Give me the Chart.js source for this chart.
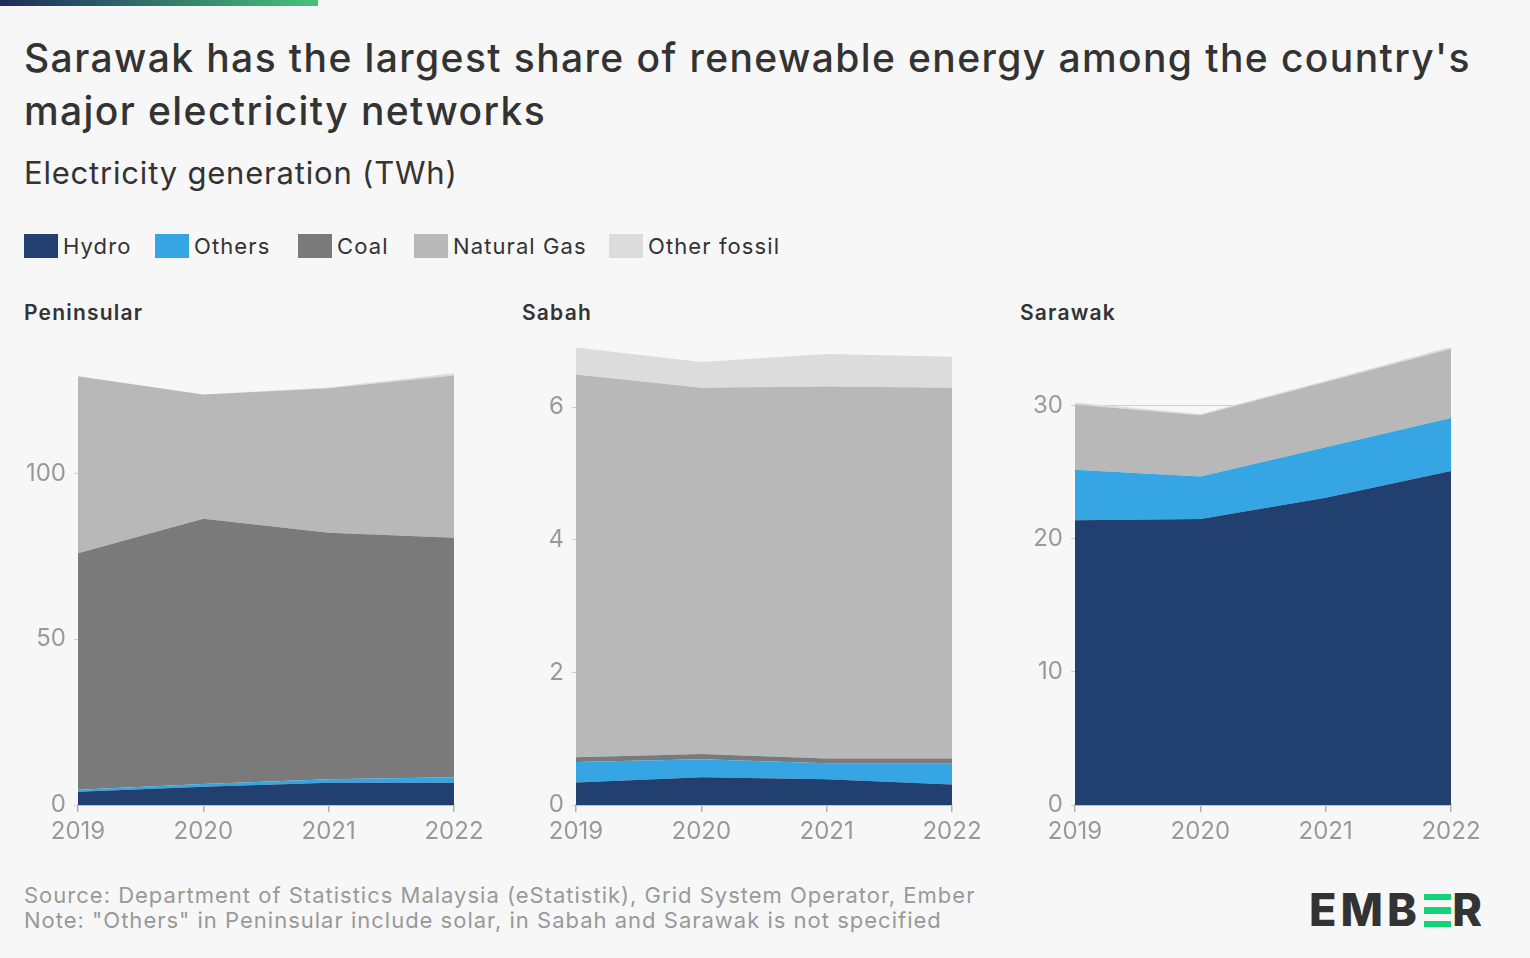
<!DOCTYPE html>
<html>
<head>
<meta charset="utf-8">
<script src="https://cdn.jsdelivr.net/npm/chart.js@4.4.1/dist/chart.umd.min.js"></script>
<style>
  html, body { margin:0; padding:0; background:#f7f7f7; }
  body { width:1530px; height:958px; position:relative; overflow:hidden; font-family: Inter, "Noto Sans", sans-serif; color:#333; }
  #topbar { position:absolute; left:0; top:0; width:318px; height:6px; background:linear-gradient(90deg,#1f2a5c,#47c27a); }
  #title { position:absolute; left:24px; top:31px; font-size:39px; font-weight:500; line-height:53px; color:#333; letter-spacing:1.4px; white-space:nowrap; }
  #subtitle { position:absolute; left:24px; top:154px; font-size:31px; font-weight:400; color:#333; letter-spacing:0.8px; }
  #legend { position:absolute; left:24px; top:233px; height:26px; }
  .li { position:absolute; top:0; white-space:nowrap; font-size:22px; line-height:26px; color:#333; letter-spacing:1.1px; }
  .sw { display:inline-block; width:34px; height:24px; vertical-align:top; margin-right:5px; margin-top:1px; }
  .ptitle { position:absolute; top:300px; font-size:21px; font-weight:600; color:#333; letter-spacing:1.2px; }
  .wrap { position:absolute; }
  #source { position:absolute; left:24px; top:883px; font-size:22px; line-height:25px; color:#999; letter-spacing:1px; white-space:nowrap; }
  #logo { position:absolute; left:1309px; top:885px; font-size:45px; font-weight:800; color:#333; letter-spacing:4px; line-height:50px; white-space:nowrap; }
  #logo .g { color:transparent; position:relative; display:inline-block; }
  #logo .g::after { content:""; position:absolute; left:3px; top:9px; width:27px; height:33px;
    background:linear-gradient(to bottom, #14d27a 0 19%, transparent 19% 40.5%, #14d27a 40.5% 59.5%, transparent 59.5% 81%, #14d27a 81% 100%); }
</style>
</head>
<body>
<div id="topbar"></div>
<div id="title">Sarawak has the largest share of renewable energy among the country's<br>major electricity networks</div>
<div id="subtitle">Electricity generation (TWh)</div>
<div id="legend"></div>
<div class="ptitle" style="left:24px">Peninsular</div>
<div class="ptitle" style="left:522px">Sabah</div>
<div class="ptitle" style="left:1020px">Sarawak</div>
<div class="wrap" id="w1"></div>
<div class="wrap" id="w2"></div>
<div class="wrap" id="w3"></div>
<div id="source">Source: Department of Statistics Malaysia (eStatistik), Grid System Operator, Ember<br>Note: "Others" in Peninsular include solar, in Sabah and Sarawak is not specified</div>
<div id="logo">EMB<span class="g">E</span>R</div>
<script>
// ---- Data ----
const years = ["2019", "2020", "2021", "2022"];
const seriesNames = ["Hydro", "Others", "Coal", "Natural Gas", "Other fossil"];
const seriesColors = ["#213f6f", "#36a5e4", "#7a7a7a", "#b8b8b8", "#dcdcdc"];

const peninsularHydro = [4.0, 5.5, 6.7, 6.7];
const peninsularOthers = [0.6, 0.8, 1.1, 1.7];
const peninsularCoal = [71.3, 80.0, 74.3, 72.2];
const peninsularGas = [53.4, 37.5, 43.6, 48.9];
const peninsularOtherFossil = [0.0, 0.0, 0.2, 0.7];

const sabahHydro = [0.34, 0.42, 0.39, 0.31];
const sabahOthers = [0.31, 0.27, 0.24, 0.32];
const sabahCoal = [0.07, 0.08, 0.07, 0.07];
const sabahGas = [5.77, 5.52, 5.61, 5.59];
const sabahOtherFossil = [0.41, 0.39, 0.49, 0.47];

const sarawakHydro = [21.4, 21.5, 23.1, 25.1];
const sarawakOthers = [3.8, 3.2, 3.8, 4.0];
const sarawakCoal = [0, 0, 0, 0];
const sarawakGas = [4.9, 4.6, 4.9, 5.2];
const sarawakOtherFossil = [0.15, 0.1, 0.1, 0.15];

const peninsularTicks = [0, 50, 100];
const sabahTicks = [0, 2, 4, 6];
const sarawakTicks = [0, 10, 20, 30];

const peninsularAxisMax = 138;
const sabahAxisMax = 6.9;
const sarawakAxisMax = 34.4;

// ---- Legend ----
const legendX = [0, 131, 274, 390, 585];
const legend = document.getElementById('legend');
seriesNames.forEach((n, i) => {
  const d = document.createElement('div');
  d.className = 'li';
  d.style.left = legendX[i] + 'px';
  d.innerHTML = '<span class="sw" style="background:' + seriesColors[i] + '"></span>' + n;
  legend.appendChild(d);
});

// ---- Charts ----
const tickFont = { family: 'Inter, "Noto Sans", sans-serif', size: 24 };
const PLOT_TOP = 347, PLOT_BOTTOM = 805, X_AXIS_H = 55, CANVAS_W = 500;

function buildChart(wrap, H, series, ticks, axisMax) {
  wrap.innerHTML = '';
  const cv = document.createElement('canvas');
  cv.width = CANVAS_W; cv.height = H;
  cv.style.width = CANVAS_W + 'px';
  cv.style.height = H + 'px';
  cv.style.display = 'block';
  wrap.appendChild(cv);
  return new Chart(cv, {
    type: 'line',
    data: {
      labels: years,
      datasets: series.map((arr, i) => ({
        label: seriesNames[i],
        data: arr,
        backgroundColor: seriesColors[i],
        borderColor: seriesColors[i],
        borderWidth: 0,
        pointRadius: 0,
        tension: 0,
        fill: i === 0 ? 'origin' : '-1'
      }))
    },
    options: {
      responsive: false,
      animation: false,
      events: [],
      layout: { padding: { top: 0, right: 46, left: 0, bottom: 0 } },
      plugins: { legend: { display: false }, tooltip: { enabled: false } },
      scales: {
        x: {
          offset: false,
          grid: { drawOnChartArea: false, drawTicks: true, tickLength: 7, color: '#b0b0b0', lineWidth: 1.5 },
          border: { display: true, color: '#b0b0b0', width: 1.5 },
          ticks: { color: '#999', font: tickFont, padding: 5, maxRotation: 0, autoSkip: false },
          afterFit: s => { s.height = X_AXIS_H; }
        },
        y: {
          stacked: true,
          min: 0,
          max: axisMax,
          grid: { color: '#cfcfcf', lineWidth: 1, drawTicks: true, tickLength: 4 },
          border: { display: false },
          ticks: { color: '#999', font: tickFont, padding: 8 },
          afterBuildTicks: s => { s.ticks = ticks.map(v => ({ value: v })); },
          afterFit: s => { s.width = 78; }
        }
      }
    }
  });
}

function makeChart(id, left, series, ticks, axisMax) {
  const wrap = document.getElementById(id);
  let H = 533;
  let chart = buildChart(wrap, H, series, ticks, axisMax);
  const ca = chart.chartArea;
  const offTop = ca.top, offBottom = H - ca.bottom;
  chart.destroy();
  H = Math.round(offTop + (PLOT_BOTTOM - PLOT_TOP) + offBottom);
  wrap.style.left = left + 'px';
  wrap.style.top = (PLOT_TOP - offTop) + 'px';
  buildChart(wrap, H, series, ticks, axisMax);
}

makeChart('w1', 0, [peninsularHydro, peninsularOthers, peninsularCoal, peninsularGas, peninsularOtherFossil], peninsularTicks, peninsularAxisMax);
makeChart('w2', 498, [sabahHydro, sabahOthers, sabahCoal, sabahGas, sabahOtherFossil], sabahTicks, sabahAxisMax);
makeChart('w3', 997, [sarawakHydro, sarawakOthers, sarawakCoal, sarawakGas, sarawakOtherFossil], sarawakTicks, sarawakAxisMax);
</script>
</body>
</html>
